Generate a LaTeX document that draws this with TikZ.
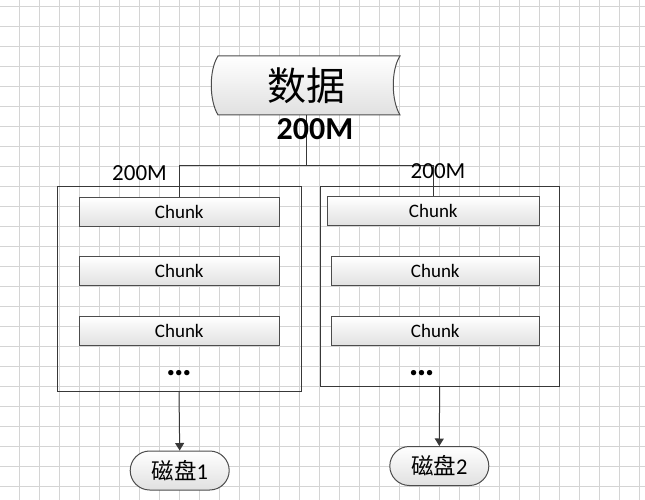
\documentclass[tikz,border=0pt]{standalone}
\usepackage{fontspec}
\setmainfont{Carlito}
\newfontfamily\cjk{Noto Sans CJK SC}
\usetikzlibrary{arrows.meta,positioning,shapes.misc}

\begin{document}
\begin{tikzpicture}[
  x=1pt, y=-1pt,
  line width=1pt,
  gridline/.style={draw=black!17, line width=0.9pt},
  wire/.style={draw=black!78},
  frame/.style={draw=black!78, minimum width=#1, inner sep=0pt},
  chunk/.style={draw=black!70, top color=white, bottom color=black!12, minimum height=29pt, inner sep=0pt, font=\fontsize{19}{19}\selectfont},
  disk/.style={draw=black!70, rounded rectangle, top color=white, bottom color=black!12, minimum width=99pt, minimum height=39pt, inner sep=0pt, font=\fontsize{22.5}{22.5}\selectfont},
  sizelbl/.style={font=\fontsize{23}{23}\selectfont, inner sep=0pt},
  dots/.style={font=\bfseries\fontsize{36}{36}\selectfont, inner sep=0pt},
  arr/.style={wire, -{Triangle[length=7.5pt,width=9pt]}}
]
\useasboundingbox (0,0) rectangle (645,500);

% background grid
\foreach \gx in {0,...,31} \draw[gridline] (19.5+20*\gx,0) -- (19.5+20*\gx,500);
\foreach \gy in {0,...,24} \draw[gridline] (0,6+20*\gy) -- (645,6+20*\gy);

% source data
\path[draw=black!70, top color=white, bottom color=black!12]
  (218,56) -- (400,56) .. controls (391,70) and (391,100) .. (400,115)
  -- (218,115) .. controls (209,100) and (209,70) .. (218,56) -- cycle;
\node[minimum width=188pt, minimum height=59pt, inner sep=0pt, font=\cjk\fontsize{39}{39}\selectfont] (data) at (306,85.5) {数据};
\coordinate (hub) at (306,165.7);

% the two groups
\node[frame=244pt, minimum height=204.3pt] (lbox) at (179,288.85) {};
\node[frame=239.3pt, minimum height=199.3pt] (rbox) at (439.65,286.35) {};

\node[chunk, minimum width=200pt] (lc1) at (179.3,212.2) {Chunk};
\node[chunk, minimum width=200pt] (lc2) at (179.3,271.3) {Chunk};
\node[chunk, minimum width=200pt] (lc3) at (179.3,331.3) {Chunk};
\node[dots] (ldots) at (179,373) {…};

\node[chunk, minimum width=212pt] (rc1) at (433.3,211.4) {Chunk};
\node[chunk, minimum width=208pt] (rc2) at (435.3,271.3) {Chunk};
\node[chunk, minimum width=208pt] (rc3) at (435.3,331.3) {Chunk};
\node[dots] (rdots) at (421.7,373) {…};

\node[disk] (disk1) at (179.7,470.5) {{\cjk 磁盘}1};
\node[disk] (disk2) at (439.3,466) {{\cjk 磁盘}2};

\draw[wire] (data.south) -- (hub);
\draw[wire] (hub) -| (lc1.north);
\draw[wire] (hub) -| (rc1.north);
\draw[arr] (lbox.south) -- (disk1.north);
\draw[arr] (rbox.south) -- (disk2.north);

\node[font=\bfseries\fontsize{32}{32}\selectfont, inner sep=0pt] (total) at (315,129.3) {200M};
\node[sizelbl] (lsize) at (139.5,173.3) {200M};
\node[sizelbl] (rsize) at (438,171.5) {200M};
\end{tikzpicture}
\end{document}
